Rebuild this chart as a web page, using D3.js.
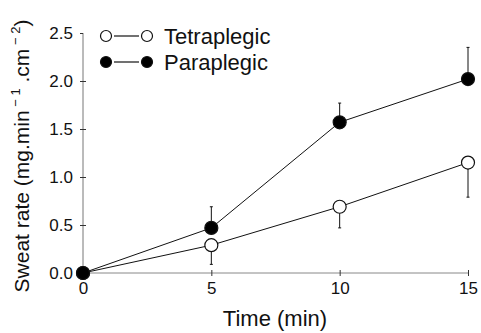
<!DOCTYPE html>
<html>
<head>
<meta charset="utf-8">
<script src="https://cdn.jsdelivr.net/npm/d3@7"></script>
<style>
  body { margin: 0; background: #fff; }
  svg { font-family: "Liberation Sans", Arial, sans-serif; }
</style>
</head>
<body>
<svg id="chart" width="481" height="333"></svg>
<script>
var times = [0, 5, 10, 15];
var tetraMean = [0, 0.29, 0.69, 1.15];
var tetraErr = [0, 0.20, 0.22, 0.36];
var paraMean = [0, 0.47, 1.57, 2.02];
var paraErr = [0, 0.22, 0.20, 0.33];
var xTicks = [0, 5, 10, 15];
var yTicks = [0, 0.5, 1.0, 1.5, 2.0, 2.5];

var svg = d3.select("#chart"),
    margin = {top: 33, right: 13, bottom: 60, left: 83},
    width = +svg.attr("width") - margin.left - margin.right,
    height = +svg.attr("height") - margin.top - margin.bottom,
    g = svg.append("g").attr("transform", "translate(" + margin.left + "," + margin.top + ")");

var x = d3.scaleLinear().domain([0, 15]).range([0, width]);
var y = d3.scaleLinear().domain([0, 2.5]).range([height, 0]);

// axes
var yAxis = g.append("g")
    .call(d3.axisLeft(y).tickValues(yTicks).tickFormat(d3.format(".1f")).tickSize(3).tickPadding(7));
var xAxis = g.append("g")
    .attr("transform", "translate(0," + height + ")")
    .call(d3.axisBottom(x).tickValues(xTicks).tickFormat(d3.format("d")).tickSize(3).tickPadding(6));

yAxis.select(".domain").attr("d", "M0," + y(2.5) + "V" + y(0)).attr("stroke", "#777");
xAxis.select(".domain").attr("d", "M0,0H" + x(15)).attr("stroke", "#888");
yAxis.selectAll(".tick line").attr("x1", function (d) { return d === 2.5 ? 0 : 3; }).attr("stroke", "#333");
xAxis.selectAll(".tick line").attr("y1", -3).attr("stroke", "#333");
g.selectAll(".tick text").attr("font-size", 17).attr("fill", "#111").attr("font-family", "Liberation Sans, Arial, sans-serif");

// axis titles
svg.append("text")
    .attr("x", 275)
    .attr("y", 326)
    .attr("text-anchor", "middle")
    .attr("font-size", 22)
    .attr("fill", "#111")
    .text("Time (min)");

var ylab = svg.append("text")
    .attr("transform", "translate(29,156) rotate(-90)")
    .attr("text-anchor", "middle")
    .attr("font-size", 21)
    .attr("fill", "#111");
ylab.append("tspan").text("Sweat rate (mg.min");
ylab.append("tspan").attr("font-size", 13).attr("dy", -9).text(" \u2212 1");
ylab.append("tspan").attr("dy", 9).text(" .cm");
ylab.append("tspan").attr("font-size", 13).attr("dy", -9).text(" \u2212 2");
ylab.append("tspan").attr("dy", 9).text(")");

var series = [
    {name: "Tetraplegic", mean: tetraMean, err: tetraErr, dir: -1, fill: "#fff"},
    {name: "Paraplegic", mean: paraMean, err: paraErr, dir: 1, fill: "#000"}
];

var line = d3.line()
    .x(function (d) { return x(d.t); })
    .y(function (d) { return y(d.v); });

series.forEach(function (s) {
    var pts = times.map(function (t, i) { return {t: t, v: s.mean[i], e: s.err[i]}; });

    g.append("path")
        .datum(pts)
        .attr("fill", "none")
        .attr("stroke", "#111")
        .attr("stroke-width", 1)
        .attr("d", line);

    var bars = g.append("g").selectAll("g")
        .data(pts.filter(function (d) { return d.e > 0; }))
        .enter().append("g");
    bars.append("line")
        .attr("x1", function (d) { return x(d.t); })
        .attr("x2", function (d) { return x(d.t); })
        .attr("y1", function (d) { return y(d.v); })
        .attr("y2", function (d) { return y(d.v + s.dir * d.e); })
        .attr("stroke", "#111");
    bars.append("line")
        .attr("x1", function (d) { return x(d.t) - 1.5; })
        .attr("x2", function (d) { return x(d.t) + 1.5; })
        .attr("y1", function (d) { return y(d.v + s.dir * d.e); })
        .attr("y2", function (d) { return y(d.v + s.dir * d.e); })
        .attr("stroke", "#111");

    g.append("g").selectAll("circle")
        .data(pts)
        .enter().append("circle")
        .attr("cx", function (d) { return x(d.t); })
        .attr("cy", function (d) { return y(d.v); })
        .attr("r", 6.5)
        .attr("fill", s.fill)
        .attr("stroke", "#111")
        .attr("stroke-width", 1.2);
});

// legend
var legend = svg.append("g")
    .selectAll("g")
    .data(series)
    .enter().append("g")
    .attr("transform", function (d, i) { return "translate(106," + (36 + i * 26) + ")"; });

legend.append("line")
    .attr("x1", 8).attr("x2", 33)
    .attr("stroke", "#111").attr("stroke-width", 1.2);
legend.append("circle").attr("cx", 0).attr("r", 5.5)
    .attr("fill", function (d) { return d.fill; }).attr("stroke", "#111").attr("stroke-width", 1.2);
legend.append("circle").attr("cx", 41).attr("r", 5.5)
    .attr("fill", function (d) { return d.fill; }).attr("stroke", "#111").attr("stroke-width", 1.2);
legend.append("text")
    .attr("x", 58)
    .attr("y", 8)
    .attr("font-size", 22)
    .attr("fill", "#111")
    .text(function (d) { return d.name; });
</script>
</body>
</html>
